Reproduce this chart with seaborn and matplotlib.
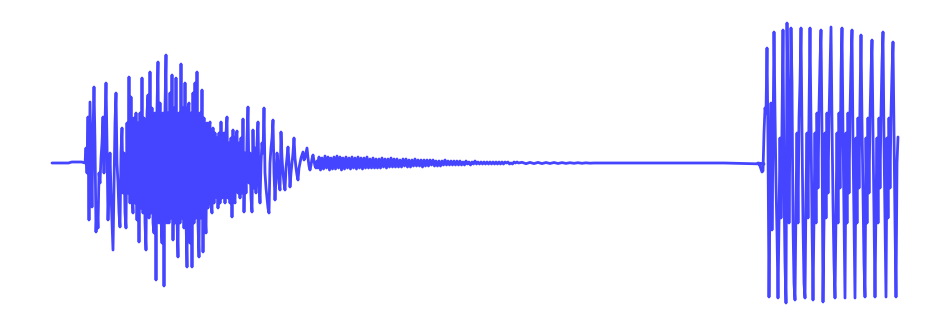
import numpy as np
import pandas as pd
import matplotlib
matplotlib.use("Agg")
import matplotlib.pyplot as plt
import seaborn as sns

# ---- data: waveform amplitude (amplitude units, full scale ~140) ----
# each segment: start time (s), sample period (s), samples
pre_t0, pre_dt = 0.00, 0.033
pre_vals = [0, 0, 0, 0, 0, 0, 1, 1, 1, 1]

burst_t0, burst_dt = 0.33, 0.01
burst_vals = [
    0, 15, -10, 46, -57, 61, 10, -44, 30, 76,
    20, -69, -40, -65, -10, -20, 5, 20, 46, -10,
    40, 80, 20, -57, -20, 10, -30, -60, -87, -20,
    40, 70, 0, -20, -50, -64, 10, 35, -30, 10,
    -50, -65, 40, -30, 86, -40, 66, -30, -50, 45,
    -40, 50, -57, 40, -79, 50, -45, 85, -50, 45,
    -60, -87, 50, 68, -55, 91, -50, 55, -60, -70,
    50, -117, 55, 101, -60, 60, -55, -80, 50, -123,
    55, 108, -60, 50, -60, 70, -55, 88, -77, 55,
    -60, 85, -55, -94, 50, -60, 99, -55, 55, -65,
    80, -55, -104, 55, 60, -80, 50, -104, 70, -60,
    80, -55, 91, -60, -94, 50, -55, 73, -89, 45,
    -50, -70, 40, -45, 35, 41, -40, -50, 35, -40,
    30, -34, 25, -45, 30, -40, 41, -35, 25, 30,
    -40, 30, 46, -35, 20, -40, 25, -54, 33, -35,
    -40, 25, 32, -30, 20, -35, 25, -30, 44, -49,
    10, -30, 25, 56, -20, 10, -35, -49, 33, -25,
    15, -30, 20, 41, -20, -40, 0, 20, 10, 55,
    -10, -25, -35, -45, -50, 0, 15, 25, 43, -10,
    -37, -15, 10, 0, -20, -27, 31, 5, -10, -20,
    -27, -5, 5, 16, 0, -24, -10, 0, 10, 25,
    5, -5, -12, -17, -5, 0, 5, 8, 11, 3,
    5, 10, 15, 5, -3, -7, -2, 4, 8, 2,
    -3, -5, 2, -5,
]

ring_t0, ring_dt = 2.67, 0.015
ring_vals = [
    6, -7, 5, -6, 7, -5, 6, -7, 5, -6,
    6, -6, 7, -5, 6, -7, 5, -6, 6, -5,
    5, -6, 6, -5, 5, -6, 6, -5, 5, -6,
    5, -5, 6, -5, 4, -5, 5, -5, 4, -5,
    4, -5, 5, -4, 4, -5, 4, -4, 5, -4,
    4, -4, 4, -4, 3, -4, 4, -3, 4, -4,
    3, -4, 3, -3, 4, -3, 3, -3, 3, -4,
    3, -3, 3, -3, 3, -2, 3, -3, 2, -3,
    2, -3, 2, -2, 3, -2, 2, -2, 2, -2,
    2, -2, 2, -2, 2, -2, 1, -2, 2, -1,
    1, -2, 1, -1, 2, -1, 1, -1, 1, -1,
    1, -1, 1, -1, 1, -1, 1, -1, 1, -1,
    1, -1, 1, -1, 1, 0, 1, -1, 0, -1,
    1, 0, 1, 0,
]

tail_t0, tail_dt = 4.70, 0.04
tail_vals = [0.7, -0.7, 0.6, -0.6, 0.6, -0.6, 0.5, -0.5, 0.5, -0.5,
             0.4, -0.4, 0.3, -0.3, 0.3, -0.3, 0.2, -0.2, 0.0, 0.0]

flat_t0, flat_dt = 5.52, 0.20
flat_vals = [0, 0, 0, 0, 0, 0, 0, -0.5, -1]

tone_t0, tone_dt = 7.06, 0.01
tone_vals = [
    0, -1, -3, -6, -9, -8, 30, 55, 50, 115,
    20, -134, -30, 60, -67, 20, 131, 50, -20, -70,
    -135, -60, 25, -55, 40, 133, -20, -100, -140, 140,
    60, -60, 30, 135, 80, -60, -120, -137, -40, 30,
    -60, 45, 80, 135, 30, -60, -120, -135, -30, 30,
    -55, 50, 135, 40, -60, -137, -50, 30, -60, 50,
    -25, 55, 100, 133, 30, -139, -60, 30, -55, 50,
    -30, 45, 90, 136, 40, -40, -100, -135, -50, 30,
    -60, 50, -25, 90, 135, 30, -50, -135, 30, -60,
    50, -30, 50, 100, 133, 20, -60, -135, 25, -60,
    45, -25, 60, 128, 40, -30, -100, -134, 25, -60,
    45, -30, 45, 90, 123, 30, -50, -134, -40, 25,
    -60, 45, -25, 50, 100, 131, 20, -60, -134, 25,
    -55, 45, -25, 50, 90, 121, 30, -60, -134, 0,
    26,
]

segments = [
    (pre_t0, pre_dt, pre_vals),
    (burst_t0, burst_dt, burst_vals),
    (ring_t0, ring_dt, ring_vals),
    (tail_t0, tail_dt, tail_vals),
    (flat_t0, flat_dt, flat_vals),
    (tone_t0, tone_dt, tone_vals),
]

frames = []
for t0, dt, vals in segments:
    v = np.asarray(vals, dtype=float)
    frames.append(pd.DataFrame({"time": t0 + np.arange(len(v)) * dt, "amplitude": v}))
df = pd.concat(frames, ignore_index=True)

# ---- plot ----
sns.set_theme(style="white")
fig = plt.figure(figsize=(9.5, 3.28), dpi=100)
ax = fig.add_axes([0, 0, 1, 1])
sns.lineplot(data=df, x="time", y="amplitude", ax=ax, color="#4545ff",
             linewidth=2.0, sort=False, estimator=None)
ax.set_xlim(-0.52, 8.98)
ax.set_ylim(-165, 163)
ax.set_axis_off()
fig.savefig("out.png", dpi=100, facecolor="white")
